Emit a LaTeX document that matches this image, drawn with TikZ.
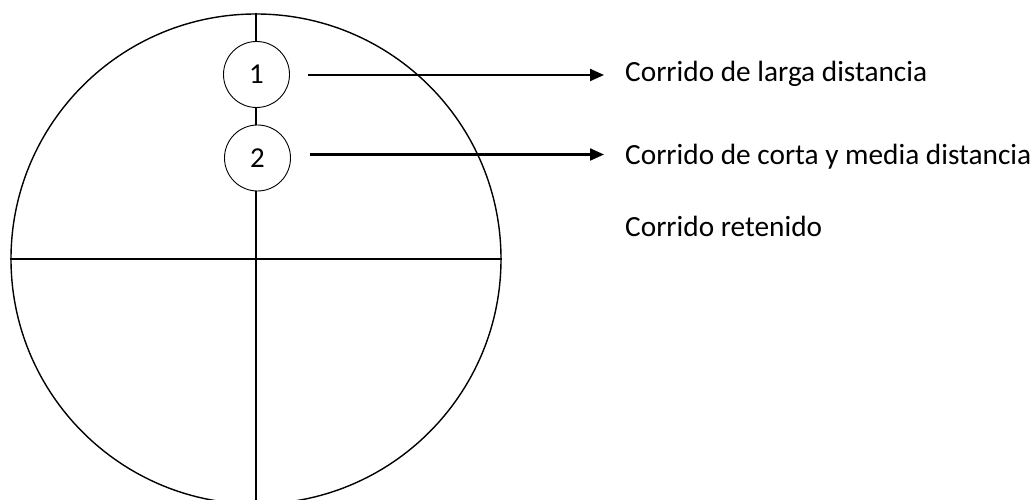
\documentclass[tikz,border=0pt]{standalone}
\usepackage{fontspec}
\setmainfont{Carlito}
\usetikzlibrary{arrows.meta}
\begin{document}
\begin{tikzpicture}[x=1bp,y=-1bp,
  thinline/.style={line width=1.4bp,black},
  numcircle/.style={circle,draw,line width=0.9bp,fill=white,minimum size=66bp,inner sep=0pt,font=\fontsize{29}{34}\selectfont},
  arrowline/.style={line width=2.2bp,-{Triangle[length=14bp,width=12bp]}},
  label/.style={anchor=base west,inner sep=0pt,font=\fontsize{29.4}{34}\selectfont}]
\useasboundingbox (0,0) rectangle (1034,500);
\clip (0,0) rectangle (1034,500);
\node[circle,draw,thinline,minimum size=490bp,inner sep=0pt] (big) at (256,259) {};
\coordinate (bottom) at (256,505);
\draw[thinline] (big.west) -- (big.east);
\draw[thinline,line width=1.6bp] (big.north) -- (bottom);
\node[numcircle] (c1) at (256.5,74.5) {1};
\node[numcircle] (c2) at (257.5,158) {2};
\node[label] (t1) at (625,82) {Corrido de larga distancia};
\node[label] (t2) at (625,165) {Corrido de corta y media distancia};
\node[label] (t3) at (625,236.5) {Corrido retenido};
\coordinate (a1s) at (308,75);
\coordinate (a1e) at (604,75);
\coordinate (a2s) at (310,154.5);
\coordinate (a2e) at (604,154.5);
\draw[arrowline] (a1s) -- (a1e);
\draw[arrowline] (a2s) -- (a2e);
\end{tikzpicture}
\end{document}
